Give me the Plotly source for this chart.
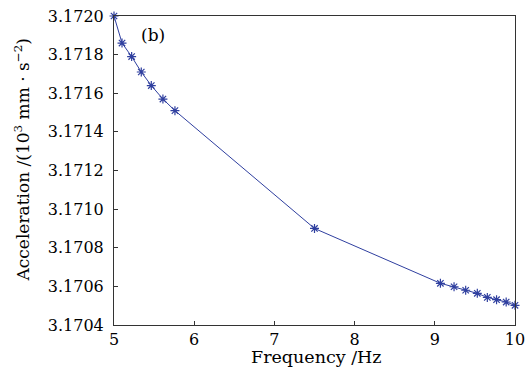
import plotly.graph_objects as go

frequency = [5.0, 5.10, 5.22, 5.34, 5.465, 5.61, 5.76, 7.5,
             9.07, 9.24, 9.385, 9.53, 9.655, 9.77, 9.89, 10.0]
acceleration = [3.17200, 3.17186, 3.17179, 3.17171, 3.17164, 3.17157, 3.17151, 3.17090,
                3.170616, 3.170598, 3.170580, 3.170564, 3.170543, 3.170531, 3.170519, 3.170502]

x_ticks = [5, 6, 7, 8, 9, 10]
y_ticks = [3.1704, 3.1706, 3.1708, 3.1710, 3.1712, 3.1714, 3.1716, 3.1718, 3.1720]

font_family = "DejaVu Serif"
line_color = "#2f3f9f"

fig = go.Figure()
fig.add_trace(go.Scatter(
    x=frequency, y=acceleration, mode="lines+markers",
    line=dict(color=line_color, width=1),
    marker=dict(symbol="asterisk-open", size=7.5, color=line_color,
                line=dict(color=line_color, width=1.2)),
    showlegend=False, cliponaxis=False,
))

fig.add_annotation(x=0.062, y=0.94, xref="paper", yref="paper", text="(b)",
                   showarrow=False, xanchor="left", yanchor="middle",
                   font=dict(family=font_family, size=17, color="black"))

# axis titles as annotations for precise placement
fig.add_annotation(x=0.504, y=-0.104, xref="paper", yref="paper", text="Frequency /Hz",
                   showarrow=False, xanchor="center", yanchor="middle",
                   font=dict(family=font_family, size=17.5, color="black"))
fig.add_annotation(x=-0.23, y=0.535, xref="paper", yref="paper",
                   text="Acceleration /(10<sup>3</sup> mm · s<sup>−2</sup>)",
                   textangle=-90, showarrow=False, xanchor="center", yanchor="middle",
                   font=dict(family=font_family, size=17, color="black"))

axis_common = dict(showgrid=False, zeroline=False, showline=True, linecolor="#333333",
                   linewidth=1, mirror=True, ticks="inside", ticklen=4, automargin=False,
                   ticklabeloverflow="allow",
                   tickcolor="#333333", tickfont=dict(family=font_family, size=16, color="black"))

fig.update_layout(
    width=527, height=374,
    margin=dict(l=114, r=12, t=16, b=49),
    paper_bgcolor="white", plot_bgcolor="white",
    xaxis=dict(range=[5, 10], tickvals=x_ticks, ticktext=[str(v) for v in x_ticks],
               ticklabelstandoff=0, **axis_common),
    yaxis=dict(range=[3.1704, 3.1720], tickvals=y_ticks, tickformat=".4f",
               ticklabelstandoff=6, **axis_common),
)

fig.write_html("out.html", config={"displayModeBar": False},
               post_script="document.body.style.margin='0';document.body.style.overflow='hidden';")
